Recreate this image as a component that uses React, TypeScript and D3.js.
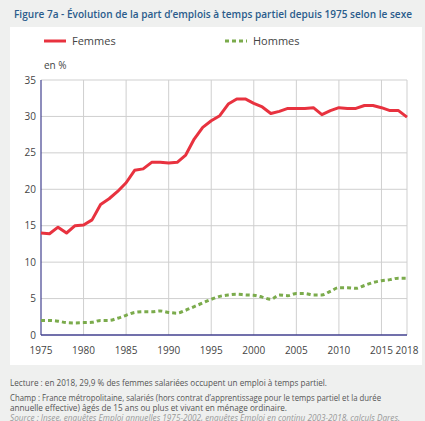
import { useEffect, useRef } from 'react'
import * as d3 from 'd3'

const years = d3.range(1975, 2019)
const femmes = [
  14.0, 13.9, 14.8, 14.0, 15.0, 15.1, 15.8, 17.9, 18.7, 19.7,
  20.9, 22.6, 22.8, 23.7, 23.7, 23.6, 23.7, 24.7, 26.9, 28.5,
  29.4, 30.1, 31.7, 32.4, 32.4, 31.8, 31.3, 30.4, 30.7, 31.1,
  31.1, 31.1, 31.2, 30.25, 30.8, 31.2, 31.1, 31.1, 31.5, 31.5,
  31.2, 30.8, 30.8, 29.9,
]
const hommes = [
  2.0, 2.0, 1.9, 1.7, 1.65, 1.7, 1.75, 2.0, 2.0, 2.3,
  2.7, 3.1, 3.2, 3.2, 3.3, 3.1, 3.0, 3.4, 3.9, 4.4,
  4.9, 5.3, 5.5, 5.6, 5.5, 5.45, 5.2, 4.9, 5.5, 5.4,
  5.7, 5.7, 5.5, 5.5, 6.0, 6.5, 6.5, 6.4, 6.8, 7.2,
  7.45, 7.6, 7.8, 7.8,
]
const xTicks = [1975, 1980, 1985, 1990, 1995, 2000, 2005, 2010, 2015, 2018]
const yTicks = [0, 5, 10, 15, 20, 25, 30, 35]

const title = 'Figure 7a - Évolution de la part d\u2019emplois à temps partiel depuis 1975 selon le sexe'
const notes = [
  'Lecture : en 2018, 29,9 % des femmes salariées occupent un emploi à temps partiel.',
  'Champ : France métropolitaine, salariés (hors contrat d\u2019apprentissage pour le temps partiel et la durée',
  'annuelle effective) âgés de 15 ans ou plus et vivant en ménage ordinaire.',
]
const source = 'Source : Insee, enquêtes Emploi annuelles 1975-2002, enquêtes Emploi en continu 2003-2018, calculs Dares.'

const RED = '#e8323f'
const GREEN = '#7bab4c'
const NAVY = '#42418f'

export default function App() {
  const svgRef = useRef<SVGSVGElement>(null)

  useEffect(() => {
    if (!svgRef.current) return
    const width = 425
    const height = 421
    const margin = { top: 80, right: 18, bottom: 86, left: 41 }

    const svg = d3.select(svgRef.current)
    svg.selectAll('*').remove()
    svg.attr('width', width).attr('height', height)

    const font = '"Open Sans", sans-serif'

    // background + white panel
    svg.append('rect').attr('width', width).attr('height', height).attr('fill', '#eff0ef')
    svg.append('rect').attr('x', 10).attr('y', 27).attr('width', 412).attr('height', 338).attr('fill', '#ffffff')

    svg.append('text')
      .attr('x', 14).attr('y', 18)
      .attr('font-family', font).attr('font-weight', 600).attr('font-size', '11px')
      .attr('fill', '#2a5c8c')
      .attr('textLength', 398).attr('lengthAdjust', 'spacingAndGlyphs')
      .text(title)

    const x = d3.scaleLinear().domain([1975, 2018]).range([margin.left, width - margin.right])
    const y = d3.scaleLinear().domain([0, 35]).range([height - margin.bottom, margin.top])

    // grid
    svg.append('g').selectAll('line').data(xTicks.slice(1)).join('line')
      .attr('x1', d => x(d)).attr('x2', d => x(d))
      .attr('y1', y(35)).attr('y2', y(0))
      .attr('stroke', '#cfcfcf').attr('stroke-width', 1)
    svg.append('g').selectAll('line').data(yTicks.slice(1)).join('line')
      .attr('x1', x(1975)).attr('x2', x(2018))
      .attr('y1', d => y(d)).attr('y2', d => y(d))
      .attr('stroke', '#cfcfcf').attr('stroke-width', 1)

    // axes
    svg.append('line').attr('x1', x(1975)).attr('x2', x(1975)).attr('y1', y(35)).attr('y2', y(0))
      .attr('stroke', NAVY).attr('stroke-width', 1.2)
    svg.append('line').attr('x1', x(1975)).attr('x2', x(2018)).attr('y1', y(0)).attr('y2', y(0))
      .attr('stroke', NAVY).attr('stroke-width', 1.5)

    svg.append('g').selectAll('text').data(yTicks).join('text')
      .attr('x', x(1975) - 5).attr('y', d => y(d) + 3.5)
      .attr('text-anchor', 'end')
      .attr('font-family', font).attr('font-size', '10px').attr('fill', '#444')
      .text(d => d)
    svg.append('g').selectAll('text').data(xTicks).join('text')
      .attr('x', d => x(d)).attr('y', y(0) + 19)
      .attr('text-anchor', 'middle')
      .attr('font-family', font).attr('font-size', '10px').attr('fill', '#444')
      .text(d => d)

    svg.append('text').attr('x', 44).attr('y', 69)
      .attr('font-family', font).attr('font-size', '10px').attr('fill', '#444')
      .text('en %')

    // series
    const lineF = d3.line<number>().x((_, i) => x(years[i])).y(d => y(d))
    const lineH = d3.line<number>().x((_, i) => x(years[i])).y(d => y(d)).curve(d3.curveMonotoneX)

    svg.append('path').attr('d', lineH(hommes))
      .attr('fill', 'none').attr('stroke', GREEN).attr('stroke-width', 3)
      .attr('stroke-dasharray', '4,3')
    svg.append('path').attr('d', lineF(femmes))
      .attr('fill', 'none').attr('stroke', RED).attr('stroke-width', 3)
      .attr('stroke-linejoin', 'round')

    // legend
    svg.append('line').attr('x1', 44).attr('x2', 66).attr('y1', 41).attr('y2', 41)
      .attr('stroke', RED).attr('stroke-width', 3)
    svg.append('text').attr('x', 72).attr('y', 45)
      .attr('font-family', font).attr('font-size', '11px').attr('fill', '#444').text('Femmes')
    svg.append('line').attr('x1', 225).attr('x2', 247).attr('y1', 41).attr('y2', 41)
      .attr('stroke', GREEN).attr('stroke-width', 3).attr('stroke-dasharray', '4,3')
    svg.append('text').attr('x', 253).attr('y', 45)
      .attr('font-family', font).attr('font-size', '11px').attr('fill', '#444').text('Hommes')

    // notes
    const noteY = [386, 401, 410.5]
    const noteLen = [317, 371, 277]
    svg.append('g').selectAll('text').data(notes).join('text')
      .attr('x', 10).attr('y', (_, i) => noteY[i])
      .attr('font-family', font).attr('font-size', '8.5px').attr('fill', '#555')
      .attr('textLength', (_, i) => noteLen[i]).attr('lengthAdjust', 'spacingAndGlyphs')
      .text(d => d)
    svg.append('text').attr('x', 10).attr('y', 421)
      .attr('font-family', font).attr('font-size', '8.5px').attr('font-style', 'italic').attr('fill', '#999')
      .attr('textLength', 390).attr('lengthAdjust', 'spacingAndGlyphs')
      .text(source)
  }, [])

  return (
    <div style={{ position: 'absolute', left: 0, top: 0 }}>
      <svg ref={svgRef}></svg>
    </div>
  )
}
